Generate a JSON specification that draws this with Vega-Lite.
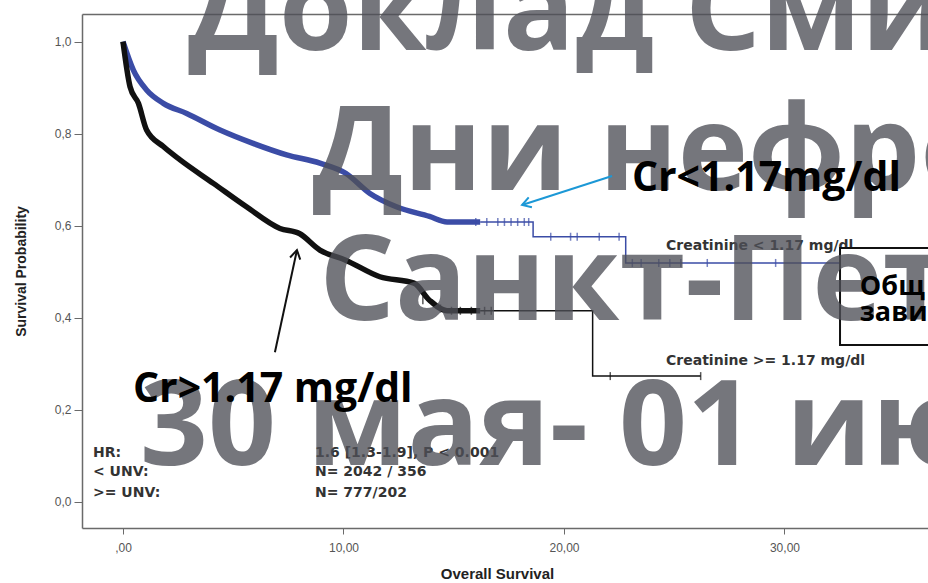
{
  "$schema": "https://vega.github.io/schema/vega-lite/v6.json",
  "width": 846,
  "height": 514,
  "autosize": {"type": "none"},
  "padding": {"left": 82, "top": 14, "right": 0, "bottom": 55},
  "background": "white",
  "config": {
    "view": {"stroke": null},
    "axis": {"grid": false, "labelFont": "Liberation Sans", "titleFont": "Liberation Sans", "domainColor": "#6a6a6a", "domainWidth": 1.5, "tickColor": "#6a6a6a", "labelColor": "#555555", "titleColor": "#222222"}
  },
  "datasets": {
    "curves": [
      {"g": "low", "t": 0, "s": 1.0},
      {"g": "low", "t": 0.47, "s": 0.938},
      {"g": "low", "t": 1.07, "s": 0.895},
      {"g": "low", "t": 1.83, "s": 0.866},
      {"g": "low", "t": 2.89, "s": 0.844},
      {"g": "low", "t": 4.4, "s": 0.808},
      {"g": "low", "t": 5.9, "s": 0.779},
      {"g": "low", "t": 7.42, "s": 0.754},
      {"g": "low", "t": 8.93, "s": 0.736},
      {"g": "low", "t": 10.1, "s": 0.714},
      {"g": "low", "t": 11.2, "s": 0.67},
      {"g": "low", "t": 12.4, "s": 0.641},
      {"g": "low", "t": 13.9, "s": 0.62},
      {"g": "low", "t": 14.7, "s": 0.608},
      {"g": "low", "t": 16.2, "s": 0.608},
      {"g": "low", "t": 18.6, "s": 0.576},
      {"g": "low", "t": 22.8, "s": 0.519},
      {"g": "low", "t": 33.0, "s": 0.519},
      {"g": "high", "t": 0, "s": 1.0},
      {"g": "high", "t": 0.32, "s": 0.902},
      {"g": "high", "t": 0.7, "s": 0.866},
      {"g": "high", "t": 1.07, "s": 0.808},
      {"g": "high", "t": 1.83, "s": 0.772},
      {"g": "high", "t": 2.59, "s": 0.743},
      {"g": "high", "t": 4.1, "s": 0.692},
      {"g": "high", "t": 5.6, "s": 0.641},
      {"g": "high", "t": 7.12, "s": 0.594},
      {"g": "high", "t": 8.0, "s": 0.583},
      {"g": "high", "t": 8.93, "s": 0.547},
      {"g": "high", "t": 10.1, "s": 0.525},
      {"g": "high", "t": 11.65, "s": 0.489},
      {"g": "high", "t": 13.2, "s": 0.475},
      {"g": "high", "t": 13.9, "s": 0.438},
      {"g": "high", "t": 14.7, "s": 0.415},
      {"g": "high", "t": 16.2, "s": 0.415},
      {"g": "high", "t": 21.3, "s": 0.273},
      {"g": "high", "t": 26.2, "s": 0.273}
    ],
    "censor": [
      {"g": "low", "t": 16.0, "s": 0.608},
      {"g": "low", "t": 16.5, "s": 0.608},
      {"g": "low", "t": 17.0, "s": 0.608},
      {"g": "low", "t": 17.3, "s": 0.608},
      {"g": "low", "t": 17.6, "s": 0.608},
      {"g": "low", "t": 17.9, "s": 0.608},
      {"g": "low", "t": 18.2, "s": 0.608},
      {"g": "low", "t": 18.4, "s": 0.608},
      {"g": "low", "t": 19.4, "s": 0.576},
      {"g": "low", "t": 20.3, "s": 0.576},
      {"g": "low", "t": 20.6, "s": 0.576},
      {"g": "low", "t": 21.6, "s": 0.576},
      {"g": "low", "t": 22.5, "s": 0.576},
      {"g": "low", "t": 23.1, "s": 0.519},
      {"g": "low", "t": 23.5, "s": 0.519},
      {"g": "low", "t": 24.3, "s": 0.519},
      {"g": "low", "t": 24.8, "s": 0.519},
      {"g": "low", "t": 25.3, "s": 0.519},
      {"g": "low", "t": 26.5, "s": 0.519},
      {"g": "low", "t": 29.6, "s": 0.519},
      {"g": "high", "t": 13.6, "s": 0.438},
      {"g": "high", "t": 14.4, "s": 0.42},
      {"g": "high", "t": 14.9, "s": 0.415},
      {"g": "high", "t": 15.3, "s": 0.415},
      {"g": "high", "t": 15.8, "s": 0.415},
      {"g": "high", "t": 16.4, "s": 0.415},
      {"g": "high", "t": 16.7, "s": 0.415},
      {"g": "high", "t": 22.1, "s": 0.273},
      {"g": "high", "t": 26.2, "s": 0.273}
    ],
    "arrows": [
      {"id": "blue", "t": 22.18, "s": 0.708, "tip": false},
      {"id": "blue", "t": 18.1, "s": 0.645, "tip": true},
      {"id": "black", "t": 6.89, "s": 0.325, "tip": false},
      {"id": "black", "t": 7.89, "s": 0.547, "tip": true}
    ],
    "watermark": [
      {"t": 2.95, "s": 0.982, "txt": "Доклад Сми"},
      {"t": 8.6, "s": 0.677, "txt": "Дни нефро"},
      {"t": 8.9, "s": 0.395, "txt": "Санкт-Пет"},
      {"t": 0.77, "s": 0.08, "txt": "30 мая- 01 ию"}
    ],
    "bigtext": [
      {"t": 23.08, "s": 0.675, "txt": "Cr<1.17mg/dl"},
      {"t": 0.45, "s": 0.2167, "txt": "Cr>1.17 mg/dl"}
    ],
    "smalltext": [
      {"t": 24.63, "s": 0.547, "txt": "Creatinine < 1.17 mg/dl"},
      {"t": 24.63, "s": 0.297, "txt": "Creatinine >= 1.17 mg/dl"},
      {"t": -1.36, "s": 0.0972, "txt": "HR:"},
      {"t": -1.36, "s": 0.0559, "txt": "< UNV:"},
      {"t": -1.36, "s": 0.0102, "txt": ">= UNV:"},
      {"t": 8.71, "s": 0.0972, "txt": "1.6 [1.3-1.9], P < 0.001"},
      {"t": 8.71, "s": 0.0559, "txt": "N= 2042 / 356"},
      {"t": 8.71, "s": 0.0102, "txt": "N= 777/202"}
    ],
    "box": [
      {"t": 32.52, "t2": 40, "s": 0.3407, "s2": 0.5515}
    ],
    "boxtext": [
      {"t": 33.42, "s": 0.449, "txt": "Общ"},
      {"t": 33.42, "s": 0.393, "txt": "зави"}
    ]
  },
  "resolve": {"axis": {"x": "independent"}},
  "layer": [
    {
      "data": {"name": "curves"},
      "transform": [{"filter": "datum.t >= 16.2"}],
      "mark": {"type": "line", "interpolate": "step-after", "strokeWidth": 1.5},
      "encoding": {
        "x": {"field": "t", "type": "quantitative", "scale": {"domain": [-1.859, 36.51], "nice": false, "zero": false},
          "axis": {"values": [0, 10, 20, 30], "labelExpr": "datum.value == 0 ? ',00' : replace(format(datum.value, '.2f'), '.', ',')", "title": "Overall Survival", "titleFontSize": 15, "titleFontWeight": "bold", "labelFontSize": 12, "tickSize": 6, "labelPadding": 8, "titlePadding": 13, "titleX": 415, "titleAlign": "center"}},
        "y": {"field": "s", "type": "quantitative", "scale": {"domain": [-0.0572, 1.0602], "nice": false, "zero": false},
          "axis": {"values": [0, 0.2, 0.4, 0.6, 0.8, 1.0], "labelExpr": "replace(format(datum.value, '.1f'), '.', ',')", "title": "Survival Probability", "titleFontSize": 14, "titleFontWeight": "bold", "labelFontSize": 12, "tickSize": 8, "labelPadding": 3, "titlePadding": 26}},
        "color": {"field": "g", "type": "nominal", "scale": {"domain": ["low", "high"], "range": ["#3b4ca6", "#111111"]}, "legend": null}
      }
    },
    {
      "data": {"name": "curves"},
      "transform": [{"filter": "datum.t <= 16.2"}],
      "mark": {"type": "line", "interpolate": "monotone", "strokeWidth": 5.5},
      "encoding": {
        "x": {"field": "t", "type": "quantitative", "axis": {"orient": "top", "labels": false, "ticks": false, "title": null, "domain": true}},
        "y": {"field": "s", "type": "quantitative"},
        "color": {"field": "g", "type": "nominal", "legend": null}
      }
    },
    {
      "data": {"name": "censor"},
      "mark": {"type": "tick", "orient": "vertical", "size": 8, "thickness": 1.5},
      "encoding": {
        "x": {"field": "t", "type": "quantitative", "axis": null},
        "y": {"field": "s", "type": "quantitative"},
        "color": {"field": "g", "type": "nominal", "legend": null}
      }
    },
    {
      "data": {"name": "smalltext"},
      "mark": {"type": "text", "align": "left", "baseline": "alphabetic", "font": "DejaVu Sans", "fontWeight": "bold", "fontSize": 14, "color": "#333333"},
      "encoding": {
        "x": {"field": "t", "type": "quantitative", "axis": null},
        "y": {"field": "s", "type": "quantitative"},
        "text": {"field": "txt"}
      }
    },
    {
      "data": {"name": "box"},
      "mark": {"type": "rect", "fill": "white", "stroke": "#111111", "strokeWidth": 2, "clip": true},
      "encoding": {
        "x": {"field": "t", "type": "quantitative", "axis": null},
        "x2": {"field": "t2"},
        "y": {"field": "s", "type": "quantitative"},
        "y2": {"field": "s2"}
      }
    },
    {
      "data": {"name": "watermark"},
      "mark": {"type": "text", "align": "left", "baseline": "alphabetic", "font": "Open Sans", "fontWeight": "bold", "fontSize": 119, "color": "#4f5058", "opacity": 0.78},
      "encoding": {
        "x": {"field": "t", "type": "quantitative", "axis": null},
        "y": {"field": "s", "type": "quantitative"},
        "text": {"field": "txt"}
      }
    },
    {
      "data": {"name": "boxtext"},
      "mark": {"type": "text", "align": "left", "baseline": "alphabetic", "font": "Open Sans", "fontWeight": "bold", "fontSize": 27, "color": "#000000"},
      "encoding": {
        "x": {"field": "t", "type": "quantitative", "axis": null},
        "y": {"field": "s", "type": "quantitative"},
        "text": {"field": "txt"}
      }
    },
    {
      "data": {"name": "bigtext"},
      "mark": {"type": "text", "align": "left", "baseline": "alphabetic", "font": "Open Sans", "fontWeight": "bold", "fontSize": 41, "color": "#000000"},
      "encoding": {
        "x": {"field": "t", "type": "quantitative", "axis": null},
        "y": {"field": "s", "type": "quantitative"},
        "text": {"field": "txt"}
      }
    },
    {
      "data": {"name": "arrows"},
      "transform": [{"filter": "datum.id == 'blue'"}],
      "mark": {"type": "line", "color": "#1c98d6", "strokeWidth": 2},
      "encoding": {
        "x": {"field": "t", "type": "quantitative", "axis": null},
        "y": {"field": "s", "type": "quantitative"}
      }
    },
    {
      "data": {"name": "arrows"},
      "transform": [{"filter": "datum.id == 'blue' && datum.tip"}],
      "mark": {"type": "point", "shape": "M-1,-0.6L0,0L-1,0.6", "filled": false, "stroke": "#1c98d6", "strokeWidth": 2, "size": 300, "angle": 162, "opacity": 1},
      "encoding": {
        "x": {"field": "t", "type": "quantitative", "axis": null},
        "y": {"field": "s", "type": "quantitative"}
      }
    },
    {
      "data": {"name": "arrows"},
      "transform": [{"filter": "datum.id == 'black'"}],
      "mark": {"type": "line", "color": "#111111", "strokeWidth": 2},
      "encoding": {
        "x": {"field": "t", "type": "quantitative", "axis": null},
        "y": {"field": "s", "type": "quantitative"}
      }
    },
    {
      "data": {"name": "arrows"},
      "transform": [{"filter": "datum.id == 'black' && datum.tip"}],
      "mark": {"type": "point", "shape": "M-1,-0.6L0,0L-1,0.6", "filled": false, "stroke": "#111111", "strokeWidth": 2, "size": 300, "angle": 282, "opacity": 1},
      "encoding": {
        "x": {"field": "t", "type": "quantitative", "axis": null},
        "y": {"field": "s", "type": "quantitative"}
      }
    }
  ]
}
